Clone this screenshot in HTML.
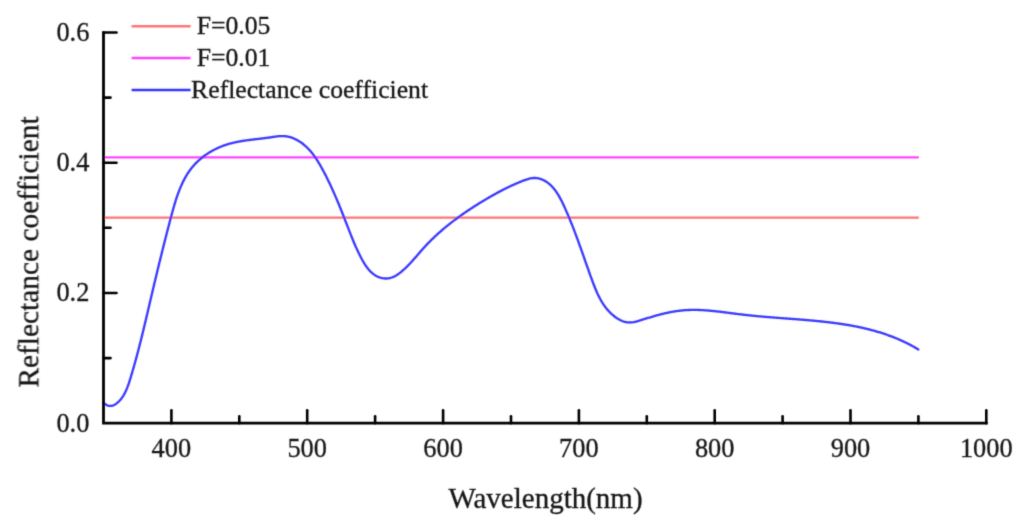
<!DOCTYPE html>
<html><head><meta charset="utf-8"><style>
html,body{margin:0;padding:0;background:#fff;}
svg{display:block;}
.t{font-family:"Liberation Serif",serif;font-size:26.4px;fill:#181818;stroke:#181818;stroke-width:0.3px;}
.ti{font-family:"Liberation Serif",serif;font-size:29.0px;fill:#181818;stroke:#181818;stroke-width:0.3px;}
.ty{font-family:"Liberation Serif",serif;font-size:29.4px;fill:#181818;stroke:#181818;stroke-width:0.3px;}
.lg{font-family:"Liberation Serif",serif;font-size:25.7px;fill:#181818;stroke:#181818;stroke-width:0.3px;}
</style></head><body>
<svg width="1024" height="526" viewBox="0 0 1024 526">
<defs><filter id="bl" filterUnits="userSpaceOnUse" x="0" y="0" width="1024" height="526"><feConvolveMatrix order="3" kernelMatrix="0.0367 0.1915 0.0367 0.1915 1.0000 0.1915 0.0367 0.1915 0.0367" edgeMode="none"/></filter></defs>
<rect width="1024" height="526" fill="#fff"/>
<g filter="url(#bl)">
<line x1="103.5" y1="217.6" x2="918.8" y2="217.6" stroke="#ff7474" stroke-width="2.3"/>
<line x1="103.5" y1="157.4" x2="918.8" y2="157.4" stroke="#ff44ff" stroke-width="2.4"/>
<path d="M103.49,402.72 L104.30,403.46 L105.09,404.09 L105.89,404.62 L106.67,405.05 L107.45,405.39 L108.22,405.65 L108.97,405.82 L109.72,405.91 L110.46,405.92 L111.19,405.87 L111.91,405.74 L112.61,405.56 L113.31,405.33 L113.99,405.04 L114.65,404.70 L115.31,404.32 L115.94,403.90 L116.57,403.45 L117.17,402.96 L117.76,402.46 L118.34,401.93 L118.90,401.39 L119.44,400.83 L119.96,400.26 L120.47,399.68 L120.96,399.08 L121.43,398.47 L121.89,397.85 L122.34,397.22 L122.77,396.57 L123.19,395.92 L123.60,395.25 L124.00,394.58 L124.38,393.89 L124.75,393.20 L125.11,392.50 L125.46,391.79 L125.80,391.07 L126.13,390.34 L126.45,389.61 L126.76,388.87 L127.07,388.13 L127.36,387.38 L127.65,386.62 L127.93,385.86 L128.21,385.09 L128.48,384.32 L128.75,383.55 L129.01,382.77 L129.26,382.00 L129.51,381.21 L129.76,380.43 L130.01,379.65 L130.25,378.86 L130.49,378.07 L130.73,377.29 L130.97,376.50 L131.21,375.72 L131.44,374.93 L131.68,374.14 L131.91,373.36 L132.14,372.57 L132.38,371.78 L132.61,371.00 L132.84,370.21 L133.06,369.42 L133.29,368.64 L133.52,367.85 L133.74,367.07 L133.96,366.28 L134.19,365.49 L134.41,364.71 L134.63,363.92 L134.85,363.14 L135.07,362.35 L135.29,361.57 L135.50,360.78 L135.72,360.00 L135.93,359.21 L136.15,358.42 L136.36,357.64 L136.57,356.85 L136.78,356.07 L136.99,355.28 L137.20,354.50 L137.41,353.71 L137.62,352.93 L137.83,352.14 L138.03,351.36 L138.24,350.57 L138.44,349.79 L138.65,349.00 L138.85,348.22 L139.05,347.43 L139.26,346.65 L139.46,345.86 L139.66,345.08 L139.86,344.30 L140.06,343.51 L140.25,342.73 L140.45,341.94 L140.65,341.16 L140.84,340.37 L141.04,339.59 L141.24,338.81 L141.43,338.02 L141.62,337.24 L141.82,336.45 L142.01,335.67 L142.20,334.89 L142.40,334.10 L142.59,333.32 L142.78,332.54 L142.97,331.75 L143.16,330.97 L143.35,330.19 L143.54,329.40 L143.73,328.62 L143.92,327.84 L144.10,327.05 L144.29,326.27 L144.48,325.49 L144.67,324.71 L144.85,323.92 L145.04,323.14 L145.23,322.36 L145.41,321.57 L145.60,320.79 L145.78,320.01 L145.97,319.23 L146.15,318.44 L146.34,317.66 L146.52,316.88 L146.70,316.10 L146.89,315.32 L147.07,314.53 L147.26,313.75 L147.44,312.97 L147.62,312.19 L147.81,311.41 L147.99,310.63 L148.17,309.84 L148.35,309.06 L148.54,308.28 L148.72,307.50 L148.90,306.72 L149.09,305.94 L149.27,305.16 L149.45,304.38 L149.63,303.59 L149.82,302.81 L150.00,302.03 L150.18,301.25 L150.36,300.47 L150.55,299.69 L150.73,298.91 L150.91,298.13 L151.10,297.35 L151.28,296.57 L151.46,295.79 L151.65,295.01 L151.83,294.23 L152.02,293.45 L152.20,292.67 L152.38,291.89 L152.57,291.11 L152.75,290.33 L152.94,289.55 L153.12,288.77 L153.31,287.99 L153.49,287.21 L153.68,286.43 L153.86,285.65 L154.05,284.87 L154.23,284.09 L154.42,283.31 L154.60,282.53 L154.79,281.75 L154.98,280.97 L155.16,280.20 L155.35,279.42 L155.54,278.64 L155.72,277.86 L155.91,277.08 L156.10,276.30 L156.28,275.52 L156.47,274.74 L156.66,273.96 L156.85,273.18 L157.04,272.40 L157.22,271.62 L157.41,270.84 L157.60,270.06 L157.79,269.28 L157.98,268.50 L158.17,267.72 L158.36,266.94 L158.55,266.16 L158.74,265.38 L158.93,264.60 L159.12,263.82 L159.31,263.04 L159.50,262.26 L159.69,261.48 L159.88,260.70 L160.08,259.92 L160.27,259.14 L160.46,258.36 L160.65,257.57 L160.85,256.79 L161.04,256.01 L161.23,255.23 L161.43,254.45 L161.62,253.67 L161.81,252.89 L162.01,252.10 L162.20,251.32 L162.40,250.54 L162.59,249.76 L162.79,248.98 L162.98,248.19 L163.18,247.41 L163.38,246.63 L163.57,245.85 L163.77,245.06 L163.97,244.28 L164.17,243.50 L164.36,242.71 L164.56,241.93 L164.76,241.15 L164.96,240.36 L165.16,239.58 L165.36,238.80 L165.56,238.01 L165.76,237.23 L165.96,236.44 L166.16,235.66 L166.36,234.87 L166.56,234.09 L166.77,233.30 L166.97,232.52 L167.17,231.73 L167.37,230.94 L167.58,230.16 L167.78,229.37 L167.99,228.58 L168.19,227.80 L168.40,227.01 L168.60,226.22 L168.81,225.43 L169.01,224.65 L169.22,223.86 L169.43,223.07 L169.63,222.28 L169.84,221.49 L170.05,220.70 L170.26,219.91 L170.47,219.13 L170.68,218.34 L170.89,217.55 L171.10,216.76 L171.31,215.96 L171.52,215.17 L171.73,214.38 L171.94,213.59 L172.16,212.80 L172.37,212.01 L172.59,211.22 L172.80,210.43 L173.02,209.64 L173.24,208.86 L173.47,208.07 L173.69,207.28 L173.91,206.49 L174.14,205.71 L174.37,204.93 L174.60,204.14 L174.84,203.36 L175.07,202.58 L175.31,201.80 L175.55,201.02 L175.80,200.24 L176.05,199.47 L176.30,198.70 L176.55,197.92 L176.81,197.16 L177.07,196.39 L177.33,195.62 L177.60,194.86 L177.87,194.10 L178.14,193.34 L178.42,192.58 L178.70,191.83 L178.99,191.07 L179.28,190.32 L179.57,189.58 L179.87,188.83 L180.18,188.09 L180.48,187.35 L180.80,186.62 L181.12,185.89 L181.44,185.16 L181.77,184.43 L182.10,183.71 L182.44,182.99 L182.78,182.27 L183.13,181.56 L183.49,180.85 L183.85,180.15 L184.22,179.45 L184.59,178.75 L184.97,178.06 L185.35,177.37 L185.75,176.69 L186.14,176.01 L186.55,175.33 L186.96,174.66 L187.38,173.99 L187.80,173.33 L188.23,172.67 L188.67,172.02 L189.12,171.37 L189.57,170.73 L190.03,170.09 L190.50,169.46 L190.98,168.83 L191.46,168.21 L191.96,167.59 L192.46,166.98 L192.96,166.38 L193.48,165.77 L194.01,165.18 L194.54,164.59 L195.08,164.01 L195.63,163.43 L196.19,162.86 L196.76,162.30 L197.33,161.74 L197.91,161.18 L198.51,160.64 L199.10,160.10 L199.71,159.56 L200.32,159.04 L200.94,158.52 L201.57,158.00 L202.20,157.49 L202.84,156.99 L203.49,156.50 L204.14,156.01 L204.80,155.53 L205.47,155.06 L206.14,154.59 L206.82,154.13 L207.50,153.68 L208.18,153.23 L208.88,152.80 L209.57,152.36 L210.28,151.94 L210.98,151.53 L211.69,151.12 L212.41,150.72 L213.13,150.32 L213.85,149.94 L214.58,149.56 L215.31,149.19 L216.04,148.83 L216.78,148.47 L217.52,148.13 L218.27,147.79 L219.01,147.46 L219.76,147.14 L220.51,146.82 L221.27,146.52 L222.02,146.22 L222.78,145.93 L223.54,145.65 L224.30,145.38 L225.07,145.12 L225.83,144.86 L226.60,144.61 L227.37,144.37 L228.14,144.14 L228.91,143.92 L229.68,143.70 L230.45,143.49 L231.23,143.28 L232.01,143.08 L232.78,142.89 L233.56,142.71 L234.34,142.53 L235.13,142.35 L235.91,142.19 L236.69,142.02 L237.48,141.87 L238.26,141.71 L239.05,141.57 L239.84,141.42 L240.63,141.28 L241.42,141.15 L242.21,141.02 L243.01,140.89 L243.80,140.77 L244.59,140.65 L245.39,140.53 L246.19,140.41 L246.98,140.30 L247.78,140.19 L248.58,140.09 L249.38,139.98 L250.18,139.88 L250.98,139.78 L251.78,139.68 L252.58,139.58 L253.38,139.49 L254.19,139.39 L254.99,139.29 L255.79,139.20 L256.60,139.11 L257.40,139.01 L258.21,138.92 L259.01,138.82 L259.82,138.73 L260.62,138.64 L261.43,138.54 L262.23,138.44 L263.04,138.34 L263.85,138.25 L264.65,138.14 L265.46,138.04 L266.27,137.94 L267.07,137.83 L267.88,137.72 L268.69,137.61 L269.50,137.49 L270.30,137.38 L271.11,137.25 L271.92,137.13 L272.72,137.01 L273.53,136.89 L274.33,136.77 L275.14,136.65 L275.94,136.54 L276.74,136.44 L277.55,136.35 L278.35,136.26 L279.15,136.19 L279.95,136.13 L280.75,136.09 L281.55,136.06 L282.34,136.05 L283.14,136.06 L283.93,136.09 L284.72,136.14 L285.51,136.22 L286.30,136.32 L287.08,136.45 L287.87,136.59 L288.65,136.77 L289.43,136.96 L290.20,137.18 L290.97,137.42 L291.73,137.67 L292.49,137.95 L293.25,138.25 L294.00,138.56 L294.74,138.90 L295.48,139.25 L296.21,139.61 L296.93,140.00 L297.65,140.39 L298.35,140.81 L299.05,141.23 L299.74,141.67 L300.42,142.12 L301.09,142.58 L301.76,143.05 L302.41,143.54 L303.05,144.03 L303.68,144.53 L304.30,145.05 L304.91,145.57 L305.52,146.10 L306.11,146.64 L306.69,147.18 L307.27,147.74 L307.83,148.30 L308.39,148.88 L308.94,149.46 L309.48,150.04 L310.01,150.64 L310.54,151.24 L311.05,151.85 L311.56,152.46 L312.07,153.09 L312.56,153.71 L313.05,154.35 L313.54,154.99 L314.01,155.63 L314.48,156.28 L314.95,156.94 L315.40,157.60 L315.86,158.26 L316.30,158.93 L316.75,159.61 L317.18,160.28 L317.61,160.97 L318.04,161.65 L318.47,162.34 L318.88,163.03 L319.30,163.73 L319.71,164.43 L320.12,165.13 L320.52,165.83 L320.92,166.53 L321.32,167.24 L321.71,167.95 L322.10,168.66 L322.49,169.37 L322.88,170.08 L323.27,170.80 L323.65,171.51 L324.03,172.23 L324.41,172.95 L324.78,173.67 L325.15,174.39 L325.53,175.11 L325.89,175.83 L326.26,176.55 L326.63,177.27 L326.99,178.00 L327.35,178.72 L327.71,179.45 L328.06,180.18 L328.42,180.91 L328.77,181.64 L329.12,182.37 L329.47,183.10 L329.82,183.83 L330.16,184.56 L330.51,185.29 L330.85,186.03 L331.19,186.76 L331.53,187.50 L331.86,188.23 L332.20,188.97 L332.53,189.71 L332.86,190.45 L333.19,191.18 L333.52,191.92 L333.85,192.66 L334.17,193.40 L334.50,194.14 L334.82,194.88 L335.14,195.63 L335.46,196.37 L335.78,197.11 L336.10,197.85 L336.41,198.60 L336.73,199.34 L337.04,200.09 L337.35,200.83 L337.66,201.57 L337.97,202.32 L338.28,203.06 L338.59,203.81 L338.90,204.56 L339.20,205.30 L339.51,206.05 L339.81,206.79 L340.11,207.54 L340.42,208.29 L340.72,209.03 L341.02,209.78 L341.32,210.53 L341.62,211.27 L341.91,212.02 L342.21,212.77 L342.51,213.52 L342.80,214.26 L343.10,215.01 L343.39,215.76 L343.68,216.50 L343.98,217.25 L344.27,217.99 L344.56,218.74 L344.85,219.49 L345.14,220.23 L345.44,220.98 L345.73,221.72 L346.02,222.47 L346.31,223.21 L346.59,223.96 L346.88,224.70 L347.17,225.45 L347.46,226.19 L347.75,226.93 L348.04,227.67 L348.32,228.42 L348.61,229.16 L348.90,229.90 L349.19,230.64 L349.48,231.38 L349.77,232.12 L350.06,232.86 L350.35,233.60 L350.64,234.34 L350.93,235.08 L351.22,235.82 L351.52,236.56 L351.82,237.29 L352.11,238.03 L352.41,238.77 L352.71,239.51 L353.02,240.25 L353.32,240.99 L353.63,241.73 L353.94,242.46 L354.25,243.20 L354.57,243.94 L354.89,244.68 L355.21,245.42 L355.53,246.16 L355.86,246.90 L356.19,247.63 L356.52,248.37 L356.86,249.11 L357.20,249.85 L357.54,250.59 L357.89,251.33 L358.24,252.07 L358.60,252.82 L358.96,253.56 L359.32,254.30 L359.69,255.04 L360.07,255.78 L360.45,256.53 L360.83,257.27 L361.22,258.02 L361.61,258.76 L362.02,259.50 L362.42,260.24 L362.84,260.97 L363.26,261.70 L363.68,262.42 L364.12,263.14 L364.56,263.86 L365.01,264.56 L365.47,265.26 L365.93,265.94 L366.41,266.62 L366.89,267.29 L367.39,267.94 L367.89,268.59 L368.40,269.22 L368.93,269.83 L369.46,270.44 L370.01,271.02 L370.57,271.59 L371.13,272.15 L371.71,272.68 L372.31,273.20 L372.91,273.70 L373.53,274.17 L374.16,274.63 L374.80,275.07 L375.46,275.48 L376.13,275.87 L376.82,276.23 L377.52,276.57 L378.23,276.89 L378.96,277.18 L379.69,277.44 L380.44,277.67 L381.19,277.88 L381.95,278.06 L382.72,278.20 L383.49,278.32 L384.26,278.41 L385.04,278.47 L385.82,278.49 L386.60,278.49 L387.37,278.45 L388.14,278.38 L388.91,278.27 L389.68,278.13 L390.44,277.95 L391.19,277.74 L391.93,277.49 L392.67,277.22 L393.40,276.91 L394.12,276.57 L394.83,276.21 L395.54,275.82 L396.23,275.41 L396.93,274.98 L397.61,274.53 L398.29,274.06 L398.95,273.58 L399.62,273.08 L400.27,272.58 L400.92,272.06 L401.56,271.54 L402.19,271.01 L402.81,270.47 L403.43,269.93 L404.04,269.38 L404.65,268.83 L405.24,268.27 L405.84,267.71 L406.42,267.14 L407.01,266.57 L407.58,265.99 L408.15,265.41 L408.72,264.83 L409.29,264.24 L409.84,263.65 L410.40,263.06 L410.95,262.46 L411.50,261.87 L412.04,261.26 L412.59,260.66 L413.13,260.06 L413.66,259.45 L414.20,258.84 L414.73,258.23 L415.26,257.62 L415.79,257.01 L416.32,256.40 L416.85,255.78 L417.38,255.17 L417.91,254.56 L418.43,253.94 L418.96,253.33 L419.49,252.72 L420.02,252.11 L420.55,251.50 L421.08,250.89 L421.61,250.29 L422.14,249.68 L422.68,249.08 L423.22,248.48 L423.76,247.88 L424.30,247.28 L424.85,246.69 L425.39,246.10 L425.94,245.51 L426.50,244.93 L427.05,244.34 L427.61,243.76 L428.17,243.18 L428.73,242.61 L429.29,242.03 L429.86,241.46 L430.43,240.89 L431.00,240.33 L431.57,239.76 L432.14,239.20 L432.72,238.64 L433.30,238.08 L433.88,237.53 L434.47,236.97 L435.05,236.42 L435.64,235.87 L436.23,235.33 L436.82,234.78 L437.41,234.24 L438.01,233.70 L438.61,233.17 L439.21,232.63 L439.81,232.10 L440.41,231.57 L441.02,231.04 L441.63,230.51 L442.24,229.99 L442.85,229.46 L443.46,228.94 L444.07,228.42 L444.69,227.91 L445.31,227.39 L445.93,226.88 L446.55,226.37 L447.18,225.86 L447.80,225.36 L448.43,224.85 L449.06,224.35 L449.69,223.85 L450.32,223.35 L450.95,222.86 L451.59,222.36 L452.23,221.87 L452.86,221.38 L453.51,220.89 L454.15,220.40 L454.79,219.92 L455.43,219.44 L456.08,218.95 L456.73,218.47 L457.38,218.00 L458.03,217.52 L458.68,217.05 L459.33,216.58 L459.99,216.10 L460.64,215.64 L461.30,215.17 L461.96,214.70 L462.62,214.24 L463.28,213.78 L463.94,213.32 L464.61,212.86 L465.27,212.40 L465.94,211.95 L466.61,211.50 L467.27,211.04 L467.94,210.59 L468.62,210.15 L469.29,209.70 L469.96,209.25 L470.64,208.81 L471.31,208.37 L471.99,207.93 L472.66,207.49 L473.34,207.05 L474.02,206.61 L474.70,206.18 L475.38,205.75 L476.07,205.32 L476.75,204.89 L477.43,204.46 L478.12,204.03 L478.80,203.61 L479.49,203.18 L480.18,202.76 L480.87,202.34 L481.56,201.92 L482.25,201.50 L482.94,201.08 L483.63,200.67 L484.32,200.25 L485.01,199.84 L485.71,199.43 L486.40,199.02 L487.10,198.61 L487.79,198.20 L488.49,197.79 L489.19,197.39 L489.88,196.98 L490.58,196.58 L491.28,196.18 L491.98,195.78 L492.68,195.39 L493.39,194.99 L494.09,194.60 L494.79,194.20 L495.50,193.81 L496.21,193.43 L496.91,193.04 L497.62,192.66 L498.33,192.27 L499.04,191.89 L499.75,191.51 L500.47,191.14 L501.18,190.76 L501.90,190.39 L502.61,190.02 L503.33,189.65 L504.05,189.28 L504.77,188.92 L505.49,188.56 L506.22,188.20 L506.94,187.84 L507.67,187.49 L508.40,187.14 L509.13,186.79 L509.86,186.44 L510.59,186.10 L511.32,185.75 L512.06,185.41 L512.80,185.08 L513.54,184.74 L514.28,184.41 L515.02,184.08 L515.76,183.76 L516.51,183.44 L517.26,183.12 L518.00,182.80 L518.76,182.48 L519.51,182.17 L520.26,181.86 L521.02,181.56 L521.78,181.26 L522.54,180.96 L523.30,180.66 L524.07,180.37 L524.83,180.08 L525.60,179.81 L526.37,179.54 L527.14,179.29 L527.91,179.05 L528.69,178.83 L529.46,178.63 L530.24,178.45 L531.01,178.30 L531.79,178.17 L532.57,178.07 L533.34,178.00 L534.12,177.96 L534.90,177.96 L535.68,178.00 L536.45,178.07 L537.23,178.17 L538.00,178.30 L538.76,178.46 L539.52,178.66 L540.28,178.88 L541.02,179.13 L541.76,179.40 L542.49,179.70 L543.21,180.02 L543.92,180.37 L544.62,180.73 L545.31,181.12 L545.98,181.52 L546.64,181.95 L547.28,182.39 L547.92,182.85 L548.54,183.33 L549.15,183.82 L549.74,184.33 L550.33,184.86 L550.90,185.40 L551.46,185.95 L552.01,186.52 L552.55,187.11 L553.08,187.70 L553.60,188.31 L554.11,188.93 L554.60,189.56 L555.09,190.20 L555.58,190.86 L556.05,191.52 L556.51,192.19 L556.96,192.87 L557.41,193.56 L557.85,194.26 L558.28,194.97 L558.71,195.68 L559.12,196.40 L559.53,197.12 L559.94,197.85 L560.33,198.59 L560.73,199.33 L561.11,200.07 L561.49,200.82 L561.87,201.57 L562.24,202.32 L562.60,203.08 L562.96,203.83 L563.32,204.59 L563.67,205.34 L564.02,206.10 L564.37,206.86 L564.71,207.61 L565.06,208.37 L565.39,209.12 L565.73,209.87 L566.06,210.62 L566.39,211.37 L566.72,212.11 L567.04,212.86 L567.37,213.60 L567.69,214.34 L568.01,215.09 L568.32,215.83 L568.64,216.57 L568.95,217.31 L569.26,218.05 L569.56,218.79 L569.87,219.52 L570.17,220.26 L570.48,221.00 L570.78,221.74 L571.08,222.47 L571.37,223.21 L571.67,223.95 L571.96,224.68 L572.26,225.42 L572.55,226.16 L572.84,226.89 L573.13,227.63 L573.41,228.37 L573.70,229.11 L573.98,229.85 L574.27,230.59 L574.55,231.33 L574.83,232.07 L575.11,232.81 L575.40,233.56 L575.67,234.30 L575.95,235.05 L576.23,235.79 L576.51,236.54 L576.79,237.29 L577.06,238.04 L577.34,238.78 L577.61,239.53 L577.89,240.29 L578.16,241.04 L578.43,241.79 L578.70,242.54 L578.98,243.30 L579.25,244.05 L579.52,244.81 L579.79,245.56 L580.06,246.32 L580.33,247.07 L580.60,247.83 L580.87,248.59 L581.14,249.35 L581.41,250.11 L581.68,250.87 L581.94,251.63 L582.21,252.39 L582.48,253.15 L582.75,253.91 L583.02,254.67 L583.28,255.43 L583.55,256.20 L583.82,256.96 L584.09,257.72 L584.36,258.49 L584.62,259.25 L584.89,260.02 L585.16,260.78 L585.43,261.54 L585.70,262.31 L585.96,263.08 L586.23,263.84 L586.50,264.61 L586.77,265.37 L587.04,266.14 L587.31,266.91 L587.58,267.67 L587.85,268.44 L588.13,269.21 L588.40,269.97 L588.67,270.74 L588.94,271.51 L589.22,272.27 L589.49,273.04 L589.76,273.81 L590.04,274.57 L590.32,275.34 L590.59,276.11 L590.87,276.87 L591.15,277.64 L591.43,278.41 L591.70,279.17 L591.98,279.94 L592.27,280.70 L592.55,281.47 L592.83,282.23 L593.12,283.00 L593.41,283.76 L593.70,284.52 L593.99,285.28 L594.29,286.04 L594.59,286.80 L594.89,287.55 L595.19,288.30 L595.50,289.05 L595.82,289.80 L596.13,290.55 L596.45,291.29 L596.78,292.03 L597.11,292.77 L597.44,293.50 L597.79,294.23 L598.13,294.96 L598.48,295.68 L598.84,296.40 L599.20,297.12 L599.57,297.83 L599.95,298.54 L600.33,299.24 L600.72,299.94 L601.11,300.64 L601.52,301.33 L601.93,302.01 L602.35,302.69 L602.77,303.36 L603.21,304.03 L603.65,304.70 L604.10,305.35 L604.57,306.00 L605.04,306.65 L605.52,307.29 L606.00,307.92 L606.50,308.54 L607.01,309.16 L607.53,309.77 L608.06,310.38 L608.60,310.98 L609.15,311.57 L609.71,312.15 L610.28,312.72 L610.87,313.29 L611.46,313.85 L612.07,314.40 L612.69,314.94 L613.32,315.47 L613.97,316.00 L614.62,316.51 L615.28,317.00 L615.96,317.48 L616.64,317.95 L617.33,318.40 L618.03,318.84 L618.74,319.25 L619.46,319.65 L620.18,320.02 L620.91,320.37 L621.64,320.70 L622.38,321.00 L623.13,321.28 L623.88,321.53 L624.63,321.76 L625.39,321.95 L626.15,322.12 L626.92,322.25 L627.69,322.35 L628.45,322.42 L629.22,322.45 L630.00,322.46 L630.77,322.43 L631.54,322.38 L632.32,322.30 L633.10,322.20 L633.88,322.07 L634.66,321.93 L635.44,321.76 L636.22,321.58 L637.00,321.39 L637.78,321.18 L638.57,320.96 L639.35,320.73 L640.13,320.49 L640.92,320.24 L641.70,319.99 L642.49,319.74 L643.27,319.49 L644.06,319.23 L644.84,318.98 L645.62,318.73 L646.41,318.48 L647.19,318.24 L647.98,317.99 L648.76,317.75 L649.54,317.51 L650.33,317.27 L651.11,317.03 L651.90,316.80 L652.68,316.57 L653.46,316.34 L654.25,316.11 L655.03,315.89 L655.82,315.67 L656.60,315.45 L657.38,315.23 L658.17,315.02 L658.95,314.81 L659.74,314.60 L660.52,314.40 L661.30,314.20 L662.09,314.01 L662.87,313.81 L663.66,313.62 L664.44,313.44 L665.23,313.26 L666.01,313.08 L666.80,312.91 L667.59,312.74 L668.37,312.57 L669.16,312.41 L669.95,312.25 L670.73,312.10 L671.52,311.95 L672.31,311.81 L673.10,311.67 L673.89,311.54 L674.67,311.41 L675.46,311.28 L676.25,311.16 L677.04,311.05 L677.83,310.94 L678.62,310.84 L679.41,310.74 L680.21,310.64 L681.00,310.56 L681.79,310.47 L682.58,310.40 L683.38,310.33 L684.17,310.26 L684.97,310.20 L685.76,310.15 L686.56,310.10 L687.35,310.06 L688.15,310.02 L688.95,309.99 L689.74,309.96 L690.54,309.94 L691.34,309.92 L692.14,309.91 L692.94,309.90 L693.74,309.90 L694.54,309.90 L695.34,309.91 L696.14,309.92 L696.94,309.93 L697.74,309.95 L698.54,309.98 L699.34,310.00 L700.15,310.03 L700.95,310.07 L701.75,310.11 L702.55,310.15 L703.36,310.20 L704.16,310.24 L704.97,310.30 L705.77,310.35 L706.57,310.41 L707.38,310.47 L708.18,310.54 L708.99,310.60 L709.79,310.67 L710.60,310.75 L711.41,310.82 L712.21,310.90 L713.02,310.98 L713.82,311.06 L714.63,311.14 L715.44,311.23 L716.24,311.32 L717.05,311.41 L717.85,311.50 L718.66,311.59 L719.47,311.69 L720.28,311.78 L721.08,311.88 L721.89,311.98 L722.70,312.08 L723.50,312.18 L724.31,312.28 L725.12,312.38 L725.92,312.48 L726.73,312.59 L727.54,312.69 L728.35,312.80 L729.15,312.90 L729.96,313.01 L730.77,313.11 L731.57,313.22 L732.38,313.32 L733.19,313.43 L733.99,313.53 L734.80,313.64 L735.60,313.74 L736.41,313.84 L737.22,313.95 L738.02,314.05 L738.83,314.15 L739.63,314.25 L740.44,314.35 L741.24,314.45 L742.05,314.54 L742.85,314.64 L743.66,314.73 L744.46,314.83 L745.26,314.92 L746.07,315.01 L746.87,315.10 L747.67,315.19 L748.48,315.27 L749.28,315.36 L750.08,315.44 L750.89,315.53 L751.69,315.61 L752.49,315.69 L753.29,315.77 L754.10,315.85 L754.90,315.93 L755.70,316.00 L756.50,316.08 L757.30,316.16 L758.10,316.23 L758.91,316.30 L759.71,316.38 L760.51,316.45 L761.31,316.52 L762.11,316.59 L762.91,316.66 L763.71,316.73 L764.51,316.80 L765.31,316.87 L766.11,316.93 L766.91,317.00 L767.71,317.07 L768.51,317.13 L769.31,317.20 L770.11,317.26 L770.92,317.32 L771.72,317.39 L772.52,317.45 L773.32,317.51 L774.12,317.57 L774.92,317.64 L775.72,317.70 L776.52,317.76 L777.32,317.82 L778.12,317.88 L778.92,317.94 L779.72,318.00 L780.52,318.06 L781.32,318.12 L782.12,318.18 L782.92,318.24 L783.72,318.30 L784.52,318.36 L785.32,318.42 L786.12,318.48 L786.92,318.54 L787.72,318.60 L788.53,318.66 L789.33,318.72 L790.13,318.78 L790.93,318.84 L791.73,318.90 L792.53,318.96 L793.33,319.02 L794.14,319.08 L794.94,319.14 L795.74,319.20 L796.54,319.26 L797.35,319.32 L798.15,319.39 L798.95,319.45 L799.75,319.51 L800.56,319.57 L801.36,319.64 L802.16,319.70 L802.97,319.77 L803.77,319.83 L804.57,319.90 L805.38,319.97 L806.18,320.03 L806.99,320.10 L807.79,320.17 L808.60,320.24 L809.40,320.31 L810.21,320.38 L811.01,320.45 L811.81,320.52 L812.62,320.60 L813.42,320.67 L814.23,320.74 L815.03,320.82 L815.84,320.90 L816.64,320.97 L817.45,321.05 L818.25,321.13 L819.06,321.21 L819.86,321.29 L820.67,321.38 L821.47,321.46 L822.28,321.54 L823.08,321.63 L823.88,321.72 L824.69,321.81 L825.49,321.89 L826.30,321.99 L827.10,322.08 L827.90,322.17 L828.71,322.27 L829.51,322.36 L830.31,322.46 L831.11,322.56 L831.92,322.66 L832.72,322.76 L833.52,322.86 L834.32,322.97 L835.12,323.07 L835.92,323.18 L836.72,323.29 L837.53,323.40 L838.33,323.51 L839.13,323.63 L839.92,323.74 L840.72,323.86 L841.52,323.98 L842.32,324.10 L843.12,324.22 L843.92,324.35 L844.71,324.48 L845.51,324.60 L846.31,324.73 L847.10,324.87 L847.90,325.00 L848.69,325.14 L849.49,325.27 L850.28,325.41 L851.07,325.56 L851.87,325.70 L852.66,325.85 L853.45,325.99 L854.24,326.15 L855.03,326.30 L855.82,326.45 L856.61,326.61 L857.40,326.77 L858.19,326.93 L858.98,327.09 L859.77,327.26 L860.55,327.43 L861.34,327.60 L862.12,327.77 L862.91,327.95 L863.69,328.13 L864.48,328.31 L865.26,328.49 L866.04,328.68 L866.82,328.86 L867.60,329.06 L868.38,329.25 L869.16,329.45 L869.94,329.64 L870.72,329.85 L871.49,330.05 L872.27,330.26 L873.04,330.47 L873.82,330.68 L874.59,330.89 L875.36,331.11 L876.13,331.33 L876.90,331.56 L877.67,331.78 L878.44,332.01 L879.21,332.24 L879.98,332.48 L880.75,332.72 L881.51,332.96 L882.27,333.20 L883.04,333.45 L883.80,333.70 L884.56,333.96 L885.32,334.21 L886.08,334.47 L886.84,334.74 L887.60,335.00 L888.35,335.27 L889.11,335.55 L889.86,335.82 L890.62,336.10 L891.37,336.39 L892.12,336.67 L892.87,336.96 L893.62,337.26 L894.37,337.55 L895.11,337.85 L895.86,338.16 L896.60,338.47 L897.35,338.78 L898.09,339.09 L898.83,339.41 L899.57,339.73 L900.31,340.06 L901.05,340.39 L901.78,340.72 L902.52,341.06 L903.25,341.40 L903.98,341.74 L904.71,342.09 L905.44,342.44 L906.17,342.80 L906.90,343.16 L907.62,343.52 L908.35,343.89 L909.07,344.26 L909.79,344.64 L910.51,345.02 L911.23,345.40 L911.95,345.79 L912.66,346.18 L913.38,346.57 L914.09,346.97 L914.80,347.38 L915.51,347.79 L916.22,348.20 L916.93,348.62 L917.64,349.04 L918.34,349.46" fill="none" stroke="#3a3aff" stroke-width="2.35" stroke-linejoin="round" stroke-linecap="round"/>
<path d="M103.5,31.17999999999996 L103.5,423.2 L987.63,423.2" fill="none" stroke="#000" stroke-width="2.8"/>
<line x1="103.5" y1="358.1" x2="110.5" y2="358.1" stroke="#000" stroke-width="2.6" stroke-linecap="round"/>
<line x1="103.5" y1="293.0" x2="116.5" y2="293.0" stroke="#000" stroke-width="2.6" stroke-linecap="round"/>
<line x1="103.5" y1="227.8" x2="110.5" y2="227.8" stroke="#000" stroke-width="2.6" stroke-linecap="round"/>
<line x1="103.5" y1="162.7" x2="116.5" y2="162.7" stroke="#000" stroke-width="2.6" stroke-linecap="round"/>
<line x1="103.5" y1="97.6" x2="110.5" y2="97.6" stroke="#000" stroke-width="2.6" stroke-linecap="round"/>
<line x1="103.5" y1="32.5" x2="116.5" y2="32.5" stroke="#000" stroke-width="2.6" stroke-linecap="round"/>
<line x1="171.4" y1="423.2" x2="171.4" y2="410.2" stroke="#000" stroke-width="2.6" stroke-linecap="round"/>
<line x1="239.3" y1="423.2" x2="239.3" y2="416.2" stroke="#000" stroke-width="2.6" stroke-linecap="round"/>
<line x1="307.2" y1="423.2" x2="307.2" y2="410.2" stroke="#000" stroke-width="2.6" stroke-linecap="round"/>
<line x1="375.1" y1="423.2" x2="375.1" y2="416.2" stroke="#000" stroke-width="2.6" stroke-linecap="round"/>
<line x1="443.1" y1="423.2" x2="443.1" y2="410.2" stroke="#000" stroke-width="2.6" stroke-linecap="round"/>
<line x1="511.0" y1="423.2" x2="511.0" y2="416.2" stroke="#000" stroke-width="2.6" stroke-linecap="round"/>
<line x1="578.9" y1="423.2" x2="578.9" y2="410.2" stroke="#000" stroke-width="2.6" stroke-linecap="round"/>
<line x1="646.8" y1="423.2" x2="646.8" y2="416.2" stroke="#000" stroke-width="2.6" stroke-linecap="round"/>
<line x1="714.7" y1="423.2" x2="714.7" y2="410.2" stroke="#000" stroke-width="2.6" stroke-linecap="round"/>
<line x1="782.6" y1="423.2" x2="782.6" y2="416.2" stroke="#000" stroke-width="2.6" stroke-linecap="round"/>
<line x1="850.5" y1="423.2" x2="850.5" y2="410.2" stroke="#000" stroke-width="2.6" stroke-linecap="round"/>
<line x1="918.4" y1="423.2" x2="918.4" y2="416.2" stroke="#000" stroke-width="2.6" stroke-linecap="round"/>
<line x1="986.3" y1="423.2" x2="986.3" y2="410.2" stroke="#000" stroke-width="2.6" stroke-linecap="round"/>
<text x="89.4" y="431.5" text-anchor="end" class="t">0.0</text>
<text x="89.4" y="301.3" text-anchor="end" class="t">0.2</text>
<text x="89.4" y="171.0" text-anchor="end" class="t">0.4</text>
<text x="89.4" y="40.8" text-anchor="end" class="t">0.6</text>
<text x="171.4" y="457.1" text-anchor="middle" class="t">400</text>
<text x="307.2" y="457.1" text-anchor="middle" class="t">500</text>
<text x="443.1" y="457.1" text-anchor="middle" class="t">600</text>
<text x="578.9" y="457.1" text-anchor="middle" class="t">700</text>
<text x="714.7" y="457.1" text-anchor="middle" class="t">800</text>
<text x="850.5" y="457.1" text-anchor="middle" class="t">900</text>
<text x="986.3" y="457.1" text-anchor="middle" class="t">1000</text>
<text x="545.5" y="507.7" text-anchor="middle" class="ti">Wavelength(nm)</text>
<text transform="translate(38.3,252) rotate(-90)" text-anchor="middle" class="ty">Reflectance coefficient</text>
<line x1="131.6" y1="26.2" x2="190.6" y2="26.2" stroke="#ff7474" stroke-width="2.5"/>
<text x="196.7" y="34.1" class="lg">F=0.05</text>
<line x1="131.6" y1="58.0" x2="190.6" y2="58.0" stroke="#ff44ff" stroke-width="2.5"/>
<text x="196.7" y="65.9" class="lg">F=0.01</text>
<line x1="131.6" y1="90.1" x2="190.6" y2="90.1" stroke="#3636ff" stroke-width="2.5"/>
<text x="191.1" y="98.0" class="lg">Reflectance coefficient</text>
</g>
</svg>
</body></html>
